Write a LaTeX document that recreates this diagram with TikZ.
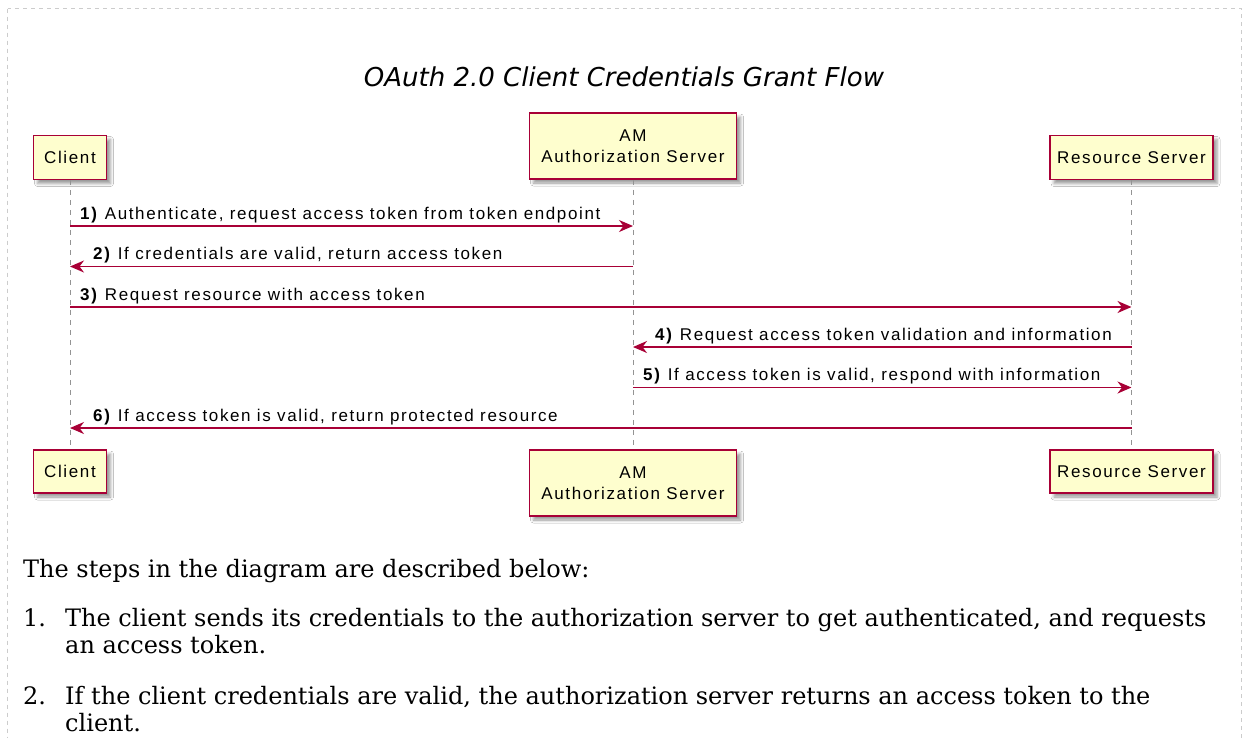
\documentclass[tikz,border=0pt]{standalone}
\usepackage{fontspec}
\setmainfont{DejaVu Serif}
\newfontfamily\titlefont{DejaVu Sans}
\newfontfamily\lblfont[LetterSpace=9.5]{Liberation Sans}
\usetikzlibrary{arrows.meta,shadows.blur}
\definecolor{pumlred}{HTML}{A80036}
\definecolor{pumlfill}{HTML}{FEFECE}
\definecolor{framegray}{HTML}{CCCCCC}
\begin{document}
\begin{tikzpicture}[x=1pt,y=-1pt,
  actor/.style={draw=pumlred, line width=1.6pt, fill=pumlfill, inner sep=0pt,
    blur shadow={shadow xshift=4pt, shadow yshift=-4pt, shadow blur radius=3pt, shadow opacity=40},
    font=\lblfont\fontsize{17}{21}\selectfont, align=center},
  lifeline/.style={draw=gray!85, line width=1pt, dash pattern=on 5pt off 5pt},
  msg/.style={draw=pumlred, line width=1.7pt, -{Stealth[length=14pt,width=12pt,inset=4.5pt]}},
  lbl/.style={anchor=base west, inner sep=0pt, font=\lblfont\fontsize{17}{19}\selectfont},
  body/.style={anchor=base west, inner sep=0pt, font=\fontsize{24}{27}\selectfont},
  frame/.style={draw=framegray, line width=1pt, dash pattern=on 4pt off 4pt}
]
\useasboundingbox (0,0) rectangle (1245,737);
\fill[white] (0,0) rectangle (1245,737);
\draw[frame] (7.5,8.5) rectangle (1241.5,800);

\node[anchor=base, inner sep=0pt, font=\titlefont\itshape\fontsize{26}{30}\selectfont] (title) at (624,86) {OAuth 2.0 Client Credentials Grant Flow};

% participants (top)
\node[actor, minimum width=73pt, minimum height=44pt] (c1) at (70,157.5) {Client};
\node[actor, minimum width=207pt, minimum height=66pt] (a1) at (633,146) {AM\\Authorization Server};
\node[actor, minimum width=163pt, minimum height=44pt] (r1) at (1131.5,157.5) {Resource Server};
% participants (bottom)
\node[actor, minimum width=73pt, minimum height=43pt] (c2) at (70,471.5) {Client};
\node[actor, minimum width=207pt, minimum height=66pt] (a2) at (633,483) {AM\\Authorization Server};
\node[actor, minimum width=163pt, minimum height=43pt] (r2) at (1131.5,471.5) {Resource Server};

% lifelines
\draw[lifeline] (c1.south) -- (c2.north);
\draw[lifeline] (a1.south) -- (a2.north);
\draw[lifeline] (r1.south) -- (r2.north);

% messages
\draw[msg] (c1.south |- 0,226) -- (a1.south |- 0,226);
\node[lbl] (m1) at (80,219) {\textbf{1)} Authenticate, request access token from token endpoint};
\draw[msg] (a1.south |- 0,266.5) -- (c1.south |- 0,266.5);
\node[lbl] (m2) at (93,259.5) {\textbf{2)} If credentials are valid, return access token};
\draw[msg] (c1.south |- 0,307) -- (r1.south |- 0,307);
\node[lbl] (m3) at (80,300) {\textbf{3)} Request resource with access token};
\draw[msg] (r1.south |- 0,347) -- (a1.south |- 0,347);
\node[lbl] (m4) at (655,340) {\textbf{4)} Request access token validation and information};
\draw[msg] (a1.south |- 0,387.5) -- (r1.south |- 0,387.5);
\node[lbl] (m5) at (643,380.5) {\textbf{5)} If access token is valid, respond with information};
\draw[msg] (r1.south |- 0,428) -- (c1.south |- 0,428);
\node[lbl] (m6) at (93,421) {\textbf{6)} If access token is valid, return protected resource};

% description
\node[body] (intro) at (23,577) {The steps in the diagram are described below:};
\node[body] (n1) at (23,626) {1.};
\node[body] (t1a) at (65,626) {The client sends its credentials to the authorization server to get authenticated, and requests};
\node[body] (t1b) at (65,653) {an access token.};
\node[body] (n2) at (23,704) {2.};
\node[body] (t2a) at (65,704) {If the client credentials are valid, the authorization server returns an access token to the};
\node[body] (t2b) at (65,731) {client.};
\end{tikzpicture}
\end{document}
